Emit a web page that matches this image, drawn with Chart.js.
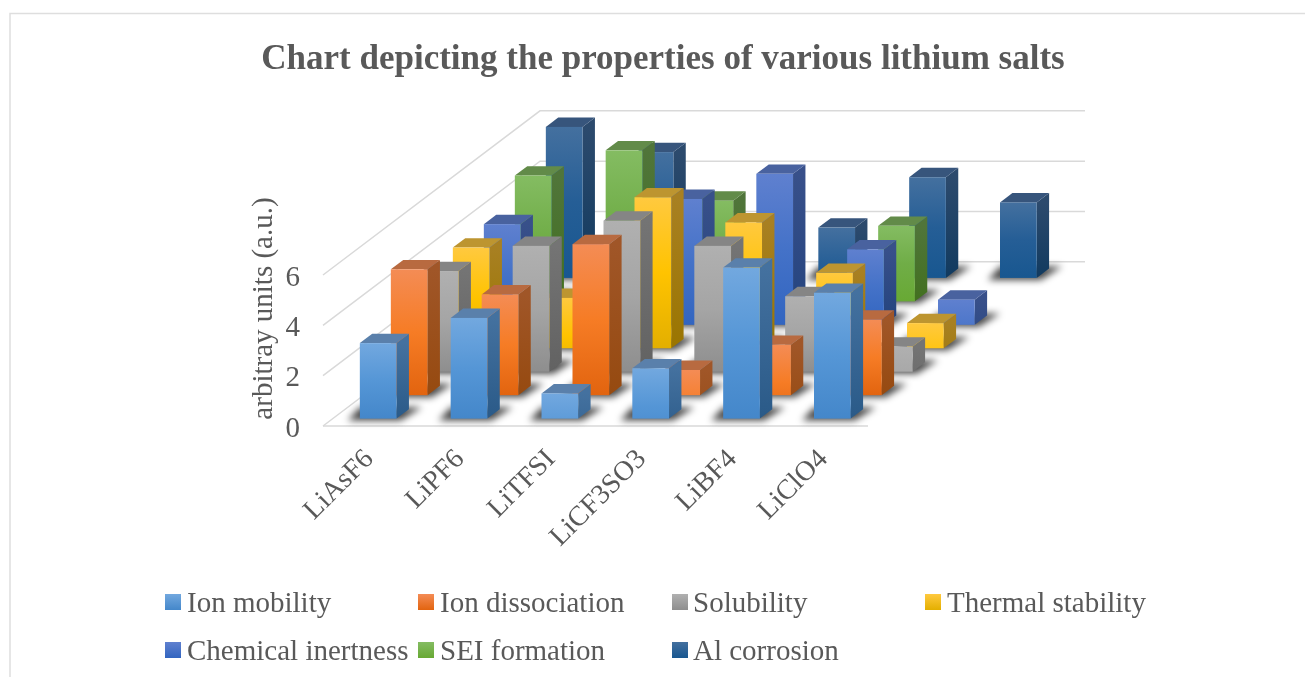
<!DOCTYPE html>
<html>
<head>
<meta charset="utf-8">
<style>html,body{margin:0;padding:0;background:#fff;overflow:hidden}#wrap{width:1305px;height:677px}canvas{display:block}</style>
<script src="https://cdn.jsdelivr.net/npm/chart.js@4"></script>
</head>
<body>
<div id="wrap"><canvas id="c" width="1305" height="677"></canvas></div>
<script>
const categories = ["LiAsF6","LiPF6","LiTFSI","LiCF3SO3","LiBF4","LiClO4"];
const seriesNames = ["Ion mobility","Ion dissociation","Solubility","Thermal stability","Chemical inertness","SEI formation","Al corrosion"];
const ionMobility = [3,4,1,2,6,5];
const ionDissociation = [5,4,6,1,2,3];
const solubility = [4,5,6,5,3,1];
const thermalStability = [4,2,6,5,3,1];
const chemicalInertness = [4,3,5,6,3,1];
const seiFormation = [5,6,4,0,3,0];
const alCorrosion = [6,5,0,2,4,3];
const seriesValues = [ionMobility,ionDissociation,solubility,thermalStability,chemicalInertness,seiFormation,alCorrosion];
const yTicks = [0,2,4,6];

const titleText = "Chart depicting the properties of various lithium salts";
const yTitleText = "arbitray units (a.u.)";

// face colours: front gradient (top, mid, bottom), side gradient (top, bottom), cap
const faces = [
  {front:["#72A8DF","#5596D6","#4487CA"],side:["#44719F","#2A5A88"],cap:"#5A80AB"},
  {front:["#F48C55","#F67C25","#E2640F"],side:["#A05628","#964A10"],cap:"#B86A40"},
  {front:["#B0B0B0","#A5A5A5","#8E8E8E"],side:["#747474","#626262"],cap:"#858585"},
  {front:["#FFC93F","#FFC300","#E3AF00"],side:["#A88022","#9A7500"],cap:"#BD9530"},
  {front:["#5F80CF","#4472C8","#3265C0"],side:["#38508A","#23437E"],cap:"#49629F"},
  {front:["#84BC62","#70AD47","#68A934"],side:["#50753A","#42701F"],cap:"#628B49"},
  {front:["#44709F","#255E96","#185790"],side:["#2C4A6D","#113A5F"],cap:"#37557C"}
];
const legendSlots = [[165,594,187],[418,594,440],[672,594,693],[925,594,947],[165,642,187],[418,642,440],[672,642,693]];

const DEPTH_X = 31, DEPTH_Y = 23.45, SLOTS = 7, NEAR = 0.315, FAR = 0.715;
const SERIF = '"Liberation Serif"';
const GREY = "#595959", LINE = "#D9D9D9";

function poly(ctx, pts){ctx.beginPath();pts.forEach((p,i)=>i?ctx.lineTo(p[0],p[1]):ctx.moveTo(p[0],p[1]));ctx.closePath();}

const scene3d = {
  id:"scene3d",
  beforeDraw(chart){
    const ctx = chart.ctx;
    ctx.save();
    ctx.strokeStyle = "#DEDEDE"; ctx.lineWidth = 1.5;
    ctx.strokeRect(10,13.5,1500,900);
    ctx.restore();
    chart.titleBlock.left = 21; chart.titleBlock.right = 1305;
    const y = chart.scales.y;
    if(!y._shifted){
      y._shifted = true;
      const orig = y.drawTitle.bind(y);
      y.drawTitle = function(){ctx.save();ctx.translate(0,-42);orig();ctx.restore();};
    }
  },
  beforeDatasetsDraw(chart){
    const ctx = chart.ctx, a = chart.chartArea, y = chart.scales.y;
    const bx = SLOTS*DEPTH_X, by = SLOTS*DEPTH_Y;
    ctx.save();
    ctx.strokeStyle = LINE; ctx.lineWidth = 1.5;
    y.ticks.forEach(t=>{
      const py = y.getPixelForValue(t.value);
      ctx.beginPath();
      ctx.moveTo(a.left,py);ctx.lineTo(a.left+bx,py-by);ctx.lineTo(a.right+bx,py-by);
      ctx.stroke();
    });
    ctx.beginPath();ctx.moveTo(a.left,a.bottom);ctx.lineTo(a.right,a.bottom);ctx.stroke();
    ctx.restore();
  },
  beforeDatasetDraw(chart,args){
    const ctx = chart.ctx, i = args.index, f = faces[i];
    args.meta.data.forEach((bar,j)=>{
      const v = chart.data.datasets[i].data[j];
      if(!v) return;
      const w = bar.width;
      const ox = (i+NEAR)*DEPTH_X, oy = (i+NEAR)*DEPTH_Y;
      const tx = (FAR-NEAR)*DEPTH_X, ty = (FAR-NEAR)*DEPTH_Y;
      const l = bar.x-w/2+ox, r = bar.x+w/2+ox, top = bar.y-oy, bot = bar.base-oy;
      const h = bot-top, gl = Math.max(h,75);
      ctx.save();
      // cast shadow on the floor
      ctx.filter = "blur(3.5px)";
      ctx.fillStyle = "rgba(0,0,0,0.72)";
      poly(ctx,[[l-12,bot+2],[r+4,bot+2],[r+tx+13,bot-ty-2],[l,bot-ty-2]]);
      ctx.fill();
      ctx.filter = "none";
      // side face
      let g = ctx.createLinearGradient(0,top,0,top+gl);
      g.addColorStop(0,f.side[0]);g.addColorStop(1,f.side[1]);
      ctx.fillStyle = g;
      poly(ctx,[[r,top],[r+tx,top-ty],[r+tx,bot-ty],[r,bot]]);
      ctx.fill();
      // cap
      ctx.fillStyle = f.cap;
      poly(ctx,[[l,top],[l+tx,top-ty],[r+tx,top-ty],[r,top]]);
      ctx.fill();
      // front face
      g = ctx.createLinearGradient(0,top,0,top+gl);
      g.addColorStop(0,f.front[0]);g.addColorStop(.5,f.front[1]);g.addColorStop(1,f.front[2]);
      ctx.fillStyle = g;
      ctx.fillRect(l,top,w,h);
      ctx.restore();
    });
    return false;
  },
  afterDraw(chart){
    const ctx = chart.ctx;
    ctx.save();
    ctx.font = "29px "+SERIF;
    ctx.textBaseline = "middle";ctx.textAlign = "left";
    chart.data.datasets.forEach((ds,i)=>{
      const [x,y,tx] = legendSlots[i], f = faces[i];
      const g = ctx.createLinearGradient(0,y,0,y+16);
      g.addColorStop(0,f.front[0]);g.addColorStop(1,f.front[2]);
      ctx.fillStyle = g;ctx.fillRect(x,y,16,16);
      ctx.fillStyle = GREY;
      ctx.fillText(ds.label,tx,y+10);
    });
    ctx.restore();
  }
};

new Chart(document.getElementById("c"),{
  type:"bar",
  data:{
    labels:categories,
    datasets:seriesNames.map((n,i)=>({label:n,data:seriesValues[i],backgroundColor:faces[i].front[1],grouped:false,barPercentage:.404,categoryPercentage:1}))
  },
  options:{
    responsive:false,animation:false,
    layout:{padding:{left:247,right:437,top:0,bottom:0}},
    plugins:{
      legend:{display:false},
      tooltip:{enabled:false},
      title:{display:true,text:titleText,color:GREY,font:{family:SERIF,size:35,weight:"bold",lineHeight:1.2},padding:{top:39,bottom:194}}
    },
    scales:{
      x:{
        grid:{display:false},border:{display:false},
        afterFit:s=>{s.height=251;},
        ticks:{color:GREY,font:{family:SERIF,size:28},minRotation:45,maxRotation:45,padding:9,labelOffset:1,autoSkip:false}
      },
      y:{
        min:0,max:6,
        grid:{display:false,drawTicks:false},border:{display:false},
        afterFit:s=>{s.width=76;},
        afterBuildTicks:s=>{s.ticks=yTicks.map(v=>({value:v}));},
        title:{display:true,text:yTitleText,color:GREY,font:{family:SERIF,size:29},padding:0},
        ticks:{color:GREY,font:{family:SERIF,size:29},padding:23,labelOffset:3}
      }
    }
  },
  plugins:[scene3d]
});
</script>
</body>
</html>
